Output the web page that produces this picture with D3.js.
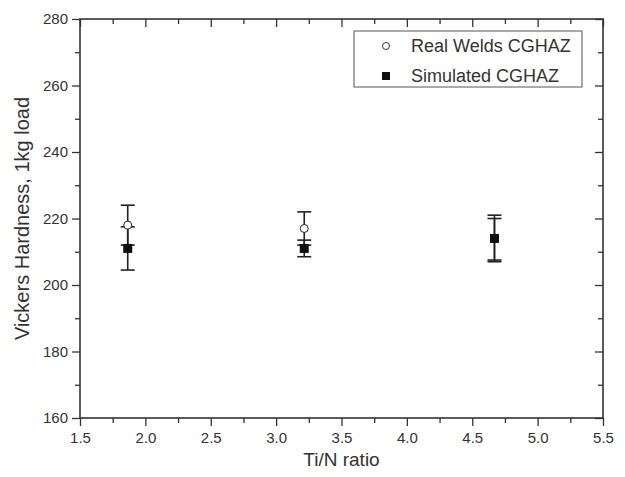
<!DOCTYPE html>
<html>
<head>
<meta charset="utf-8">
<script src="https://cdn.jsdelivr.net/npm/d3@7"></script>
<style>
  body { margin: 0; background: #fff; }
  text { font-family: "Liberation Sans", Arial, sans-serif; fill: #333; }
</style>
</head>
<body>
<div id="chart"></div>
<script>
// Ti/N ratio of each weld
var tiN = [1.865, 3.215, 4.67];

// Real welds CGHAZ: mean hardness and error bar ends
var realMean = [218, 217, 214];
var realLow  = [212, 212, 207];
var realHigh = [224, 222, 221];

// Simulated CGHAZ
var simMean = [211, 211, 214];
var simLow  = [204.5, 208.5, 207.5];
var simHigh = [217.5, 213.5, 220];

var xTicks = [1.5, 2.0, 2.5, 3.0, 3.5, 4.0, 4.5, 5.0, 5.5];
var yTicks = [160, 180, 200, 220, 240, 260, 280];
var legendLabels = ["Real Welds CGHAZ", "Simulated CGHAZ"];

var W = 625, H = 477;
var margin = {top: 19, right: 22, bottom: 59, left: 80},
    width = W - margin.left - margin.right,
    height = H - margin.top - margin.bottom;

var svg = d3.select("#chart").append("svg")
    .attr("width", W)
    .attr("height", H);

var g = svg.append("g").attr("transform", "translate(" + margin.left + "," + margin.top + ")");

var x = d3.scaleLinear().domain([1.5, 5.5]).range([0, width]);
var y = d3.scaleLinear().domain([160, 280]).range([height, 0]);

var stroke = "#333";

function styleAxis(sel) {
    sel.select(".domain").remove();
    sel.selectAll(".tick line").attr("stroke", stroke).attr("stroke-width", 1.3);
    sel.selectAll(".tick text").style("font-size", "15px").attr("fill", "#333");
}

// minor ticks
var xMinor = d3.range(1.75, 5.5, 0.5);
var yMinor = d3.range(170, 280, 20);

// bottom axis (outward ticks)
g.append("g").attr("transform", "translate(0," + height + ")")
    .call(d3.axisBottom(x).tickValues(xTicks).tickFormat(d3.format(".1f")).tickSize(8).tickPadding(6))
    .call(styleAxis);
g.append("g").attr("transform", "translate(0," + height + ")")
    .call(d3.axisBottom(x).tickValues(xMinor).tickFormat("").tickSize(5))
    .call(styleAxis);

// left axis (outward ticks)
g.append("g")
    .call(d3.axisLeft(y).tickValues(yTicks).tickFormat(d3.format("d")).tickSize(8).tickPadding(4))
    .call(styleAxis);
g.append("g")
    .call(d3.axisLeft(y).tickValues(yMinor).tickFormat("").tickSize(5))
    .call(styleAxis);

// top axis (inward ticks)
g.append("g")
    .call(d3.axisBottom(x).tickValues(xTicks).tickFormat("").tickSize(8))
    .call(styleAxis);
g.append("g")
    .call(d3.axisBottom(x).tickValues(xMinor).tickFormat("").tickSize(5))
    .call(styleAxis);

// right axis (inward ticks)
g.append("g").attr("transform", "translate(" + width + ",0)")
    .call(d3.axisLeft(y).tickValues(yTicks).tickFormat("").tickSize(8))
    .call(styleAxis);
g.append("g").attr("transform", "translate(" + width + ",0)")
    .call(d3.axisLeft(y).tickValues(yMinor).tickFormat("").tickSize(5))
    .call(styleAxis);

// frame
g.append("rect")
    .attr("width", width).attr("height", height)
    .attr("fill", "none").attr("stroke", stroke).attr("stroke-width", 1.6);

// error bars
function errorBars(means, lows, highs) {
    var cap = 7;
    tiN.forEach(function(t, i) {
        var cx = x(t);
        g.append("line").attr("x1", cx).attr("x2", cx)
            .attr("y1", y(lows[i])).attr("y2", y(highs[i]))
            .attr("stroke", "#222").attr("stroke-width", 1.6);
        [lows[i], highs[i]].forEach(function(v) {
            g.append("line").attr("x1", cx - cap).attr("x2", cx + cap)
                .attr("y1", y(v)).attr("y2", y(v))
                .attr("stroke", "#222").attr("stroke-width", 1.6);
        });
    });
}
errorBars(realMean, realLow, realHigh);
errorBars(simMean, simLow, simHigh);

// real welds: open circles
g.selectAll(".real").data(tiN).enter().append("circle")
    .attr("class", "real")
    .attr("cx", function(d) { return x(d); })
    .attr("cy", function(d, i) { return y(realMean[i]); })
    .attr("r", 4)
    .attr("fill", "#fff").attr("stroke", "#222").attr("stroke-width", 1);

// simulated: filled squares
g.selectAll(".sim").data(tiN).enter().append("rect")
    .attr("class", "sim")
    .attr("x", function(d) { return x(d) - 4.5; })
    .attr("y", function(d, i) { return y(simMean[i]) - 4.5; })
    .attr("width", 9).attr("height", 9)
    .attr("fill", "#111");

// axis titles
svg.append("text")
    .attr("x", margin.left + width / 2).attr("y", 466)
    .attr("text-anchor", "middle")
    .style("font-size", "19px")
    .text("Ti/N ratio");

svg.append("text")
    .attr("transform", "translate(29," + (margin.top + height / 2) + ") rotate(-90)")
    .attr("text-anchor", "middle")
    .style("font-size", "20px")
    .text("Vickers Hardness, 1kg load");

// legend
var legend = svg.append("g").attr("transform", "translate(354,31)");
legend.append("rect")
    .attr("width", 228).attr("height", 56)
    .attr("fill", "#fff").attr("stroke", "#555").attr("stroke-width", 1);
legend.append("circle")
    .attr("cx", 32).attr("cy", 15).attr("r", 3.5)
    .attr("fill", "#fff").attr("stroke", "#333").attr("stroke-width", 1);
legend.append("rect")
    .attr("x", 28).attr("y", 41).attr("width", 8).attr("height", 8)
    .attr("fill", "#111");
legend.selectAll(".lab").data(legendLabels).enter().append("text")
    .attr("class", "lab")
    .attr("x", 57)
    .attr("y", function(d, i) { return 21 + i * 30; })
    .style("font-size", "18px")
    .text(function(d) { return d; });
</script>
</body>
</html>
